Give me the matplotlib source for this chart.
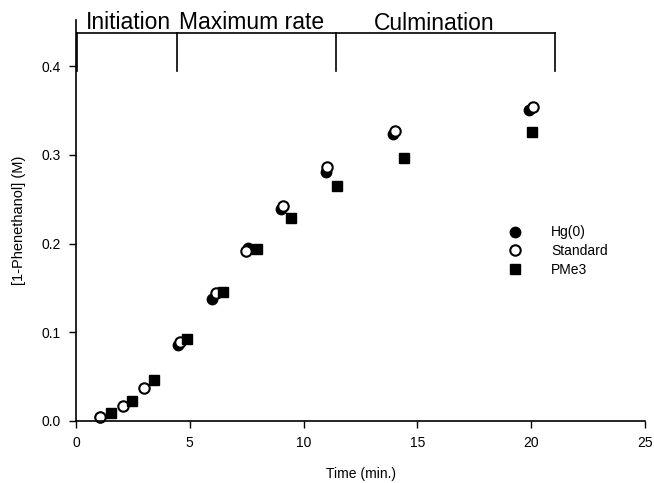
import matplotlib
matplotlib.use('Agg')
import matplotlib.pyplot as plt

plt.rcParams['font.family'] = ['Liberation Sans', 'DejaVu Sans']

# Time (min.) and [1-Phenethanol] (M)
hg_t = [1.05, 4.47, 5.96, 7.57, 9.00, 10.98, 13.94, 19.91]
hg_c = [0.004, 0.086, 0.1375, 0.195, 0.2385, 0.281, 0.324, 0.351]

std_t = [1.05, 2.05, 2.99, 4.57, 6.13, 7.45, 9.08, 11.01, 14.02, 20.06]
std_c = [0.005, 0.0173, 0.0375, 0.089, 0.144, 0.1916, 0.242, 0.2858, 0.327, 0.3535]

pme3_t = [1.52, 2.44, 3.44, 4.89, 6.44, 7.96, 9.45, 11.48, 14.42, 20.02]
pme3_c = [0.0087, 0.0229, 0.0462, 0.0924, 0.1457, 0.1934, 0.2291, 0.2648, 0.2968, 0.3253]

# reaction phases (bracket edges and labels)
phase_edges = [0.05, 4.44, 11.42, 21.05]
phase_names = ['Initiation', 'Maximum rate', 'Culmination']
phase_label_x = [2.31, 7.71, 15.73]
phase_label_y = [0.4417, 0.4417, 0.4405]

fig = plt.figure(figsize=(6.54, 4.83), dpi=100)
ax = fig.add_axes([76 / 654, 1 - 421 / 483, 569 / 654, 401 / 483])

ms = 7.5
ax.plot(hg_t, hg_c, 'o', color='black', ms=ms, label='Hg(0)', clip_on=False)
ax.plot(std_t, std_c, 'o', mfc='white', mec='black', mew=1.5, ms=ms,
        label='Standard', clip_on=False)
ax.plot(pme3_t, pme3_c, 's', color='black', ms=7, label='PMe3', clip_on=False)

# phase bracket
y_top, y_bot = 0.4377, 0.395
ax.plot([phase_edges[0], phase_edges[-1]], [y_top, y_top], color='black', lw=1.2,
        clip_on=False)
for xe in phase_edges:
    ax.plot([xe, xe], [y_bot, y_top], color='black', lw=1.2, clip_on=False)
for name, lx, ly in zip(phase_names, phase_label_x, phase_label_y):
    ax.text(lx, ly, name, ha='center', va='baseline', fontsize=16.5)

ax.set_xlim(0, 25)
ax.set_ylim(0, 0.452)
ax.set_xticks([0, 5, 10, 15, 20, 25])
ax.set_yticks([0.0, 0.1, 0.2, 0.3, 0.4])
ax.set_yticklabels(['0.0', '0.1', '0.2', '0.3', '0.4'])
ax.tick_params(direction='out', length=5, width=1, labelsize=10, pad=6)
for s in ['top', 'right']:
    ax.spines[s].set_visible(False)
for s in ['left', 'bottom']:
    ax.spines[s].set_linewidth(1.2)

ax.set_xlabel('Time (min.)', fontsize=10, labelpad=12)
ax.set_ylabel('[1-Phenethanol] (M)', fontsize=10.5, labelpad=11)

ax.legend(loc='upper left', bbox_to_anchor=(0.735, 0.505), frameon=False,
          fontsize=10, handletextpad=1.6, labelspacing=0.35, borderpad=0)

fig.savefig('out.png', dpi=100)
